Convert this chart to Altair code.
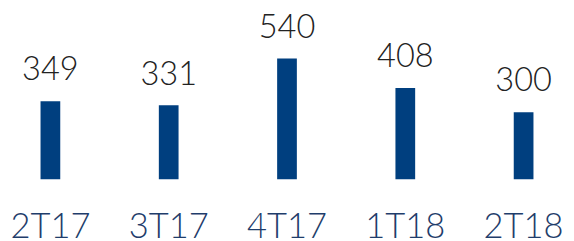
import altair as alt
import pandas as pd

quarters = ["2T17", "3T17", "4T17", "1T18", "2T18"]
values = [349, 331, 540, 408, 300]

df = pd.DataFrame({"quarter": quarters, "value": values})

x = alt.X("quarter:N", sort=quarters,
          scale=alt.Scale(range=[-17, 583], paddingInner=0, paddingOuter=0),
          axis=alt.Axis(title=None, labelAngle=0, domain=False, ticks=False, grid=False,
                        labelFontSize=35, labelFont="Lato", labelFontWeight=300,
                        labelColor="#1F3D6B", labelPadding=31, labelBaseline="top"))
y = alt.Y("value:Q", scale=alt.Scale(domain=[0, 669.6], nice=False, zero=True), axis=None)

bars = alt.Chart(df).mark_bar(size=20, color="#003F7F").encode(x=x, y=y)
labels = alt.Chart(df).mark_text(baseline="bottom", dy=-14, fontSize=33, font="Lato",
                                 fontWeight=300, color="#222222").encode(
    x=x, y=y, text=alt.Text("value:Q"))

chart = (bars + labels).properties(
    width=566, height=152,
    background="white",
    autosize=alt.AutoSizeParams(type="none"),
    padding={"left": 0, "top": 20, "right": 0, "bottom": 70},
).configure_view(strokeWidth=0, stroke="transparent")

chart.save("out.html", embed_options={"renderer": "svg", "actions": False})
